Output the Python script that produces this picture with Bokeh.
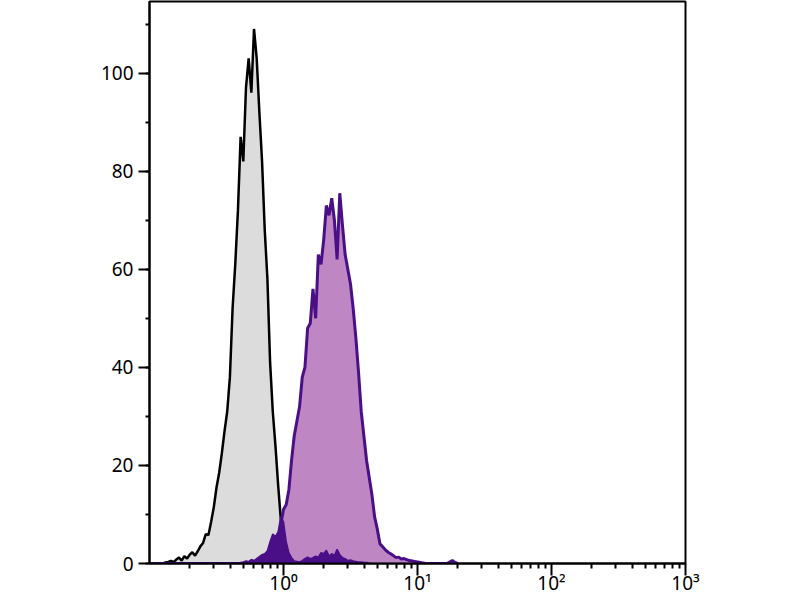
import numpy as np
from bokeh.plotting import figure
from bokeh.models import FixedTicker, SingleIntervalTicker
from bokeh.embed import file_html
from bokeh.resources import INLINE

# histogram channels: 50 per decade, starting at 10^-1
channels_per_decade = 50
first_decade = -1.0

# counts, one value per channel
control = [
    0, 0, 0, 0, 0, 0, 0.2, 0.3, 0.5, 0.3,
    0.8, 1.2, 0.6, 1.5, 1.0, 1.8, 2.3, 1.6, 2.5, 3.5,
    4.2, 6.0, 5.8, 8.5, 11.5, 15.5, 18.5, 22.5, 27, 31,
    38, 52, 61, 72, 87, 82, 97, 103, 96, 109,
    103, 92, 82, 68, 58, 41, 31, 24, 16, 9,
    3, 1, 0.5, 0.3, 0, 0, 0, 0, 0, 0,
    0, 0, 0, 0, 0, 0, 0, 0, 0, 0,
    0, 0, 0, 0, 0, 0, 0, 0, 0, 0,
    0, 0, 0, 0, 0, 0, 0, 0, 0, 0,
    0, 0, 0, 0, 0, 0, 0, 0, 0, 0,
    0, 0, 0, 0, 0, 0, 0, 0, 0, 0,
    0, 0, 0, 0, 0, 0,
]
stained = [
    0, 0, 0, 0, 0, 0, 0, 0, 0, 0,
    0, 0, 0, 0, 0, 0, 0, 0, 0, 0,
    0, 0, 0, 0, 0, 0, 0, 0, 0, 0,
    0, 0, 0, 0, 0, 0, 0, 0, 0, 0,
    0, 0, 0, 0, 0.5, 1, 2, 3, 5, 8,
    11, 12, 15, 21, 26, 29, 32, 38, 40, 48,
    49, 56, 50, 63, 61, 66, 73, 71, 74.5, 70,
    62, 75.5, 69, 63, 60, 57, 52, 46, 39, 31,
    26, 21, 17.5, 14, 9.5, 7, 4, 3.4, 2.8, 2.3,
    2, 1.6, 1.2, 1.3, 0.9, 1, 0.8, 0.6, 0.5, 0.4,
    0.3, 0.2, 0.1, 0, 0, 0, 0, 0, 0, 0,
    0, 0, 0.3, 0.6, 0.2, 0,
]
unstained = [
    0, 0, 0, 0, 0, 0, 0, 0, 0, 0,
    0, 0, 0, 0, 0, 0, 0, 0, 0, 0,
    0, 0, 0, 0, 0, 0, 0, 0, 0, 0,
    0, 0, 0, 0, 0.2, 0.3, 0.5, 0.4, 0.8, 0.6,
    1.0, 1.4, 1.8, 2.0, 2.6, 4.5, 6.0, 5.5, 6.5, 9.5,
    8.5, 4.5, 2.2, 1.2, 0.5, 0.4, 0.3, 0.6, 1.0, 1.3,
    1.0, 1.2, 1.5, 1.3, 2.2, 2.0, 2.7, 1.5, 2.0, 1.6,
    2.9, 1.8, 1.2, 1.0, 0.6, 0.7, 0.5, 0.4, 0.3, 0.3,
    0.2, 0.2, 0.1, 0, 0, 0, 0, 0, 0, 0,
    0, 0, 0, 0, 0, 0, 0, 0, 0, 0,
    0, 0, 0, 0, 0, 0, 0, 0, 0, 0,
    0, 0, 0, 0, 0, 0,
]

x_ticks = [1, 10, 100, 1000]
x_tick_labels = ["10\u2070", "10\u00b9", "10\u00b2", "10\u00b3"]

x = 10 ** (first_decade + np.arange(len(control)) / channels_per_decade)

FONT = "Noto Sans"

p = figure(x_axis_type="log", x_range=(0.1, 1000), y_range=(0, 114.6),
           frame_width=536, frame_height=562,
           min_border_left=149, min_border_right=40,
           min_border_top=1, min_border_bottom=0,
           output_backend="svg", toolbar_location=None)
p.grid.visible = False
p.outline_line_color = "black"
p.outline_line_width = 2

# isotype control
p.varea(x, 0, control, fill_color="#dcdcdc")
p.line(x, control, line_color="black", line_width=2.5)
# stained sample
p.varea(x, 0, stained, fill_color="#be87c4")
p.line(x, stained, line_color="#4a0f86", line_width=3)
# unstained sample
p.varea(x, 0, unstained, fill_color="#4a0f86")
p.line(x, unstained, line_color="#4a0f86", line_width=1.5)

minor = [m * 10.0 ** d for d in (-1, 0, 1, 2) for m in range(2, 10)]
p.xaxis.ticker = FixedTicker(ticks=x_ticks, minor_ticks=minor)
p.xaxis.major_label_overrides = dict(zip(x_ticks, x_tick_labels))
p.yaxis.ticker = SingleIntervalTicker(interval=20, num_minor_ticks=2)

for ax in (p.xaxis[0], p.yaxis[0]):
    ax.axis_line_width = 2
    ax.major_tick_line_width = 2
    ax.minor_tick_line_width = 2
    ax.major_tick_in = 0
    ax.minor_tick_in = 0
    ax.major_label_text_font = FONT
    ax.major_label_text_font_size = "19px"
    ax.major_label_text_color = "black"

p.xaxis.major_tick_out = 12
p.xaxis.minor_tick_out = 5
p.xaxis.major_label_standoff = -6
p.yaxis.major_tick_out = 11
p.yaxis.minor_tick_out = 4
p.yaxis.major_label_standoff = 5

open("out.html", "w").write(file_html(p, INLINE))
